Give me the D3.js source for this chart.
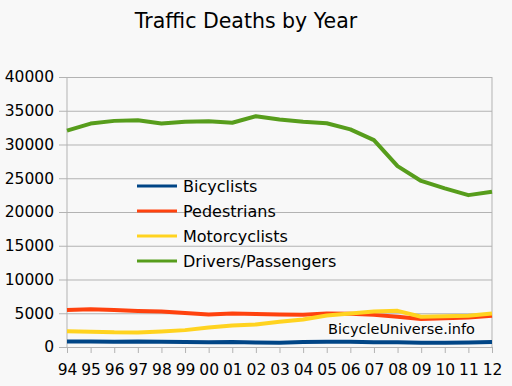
<!DOCTYPE html>
<html>
<head>
<meta charset="utf-8">
<script src="https://cdn.jsdelivr.net/npm/d3@7"></script>
<style>
  html, body { margin: 0; padding: 0; background: #f8f8f8; }
  text { font-family: "DejaVu Sans", sans-serif; fill: #000; }
</style>
</head>
<body>
<div id="chart"></div>
<script>
// Chart data
const years = ["94","95","96","97","98","99","00","01","02","03","04","05","06","07","08","09","10","11","12"];
const bicyclists  = [800, 830, 765, 810, 760, 750, 690, 730, 665, 630, 725, 785, 770, 700, 715, 630, 620, 680, 725];
const pedestrians = [5480, 5600, 5470, 5330, 5260, 5050, 4820, 4960, 4900, 4820, 4760, 4960, 4940, 4760, 4480, 4150, 4260, 4380, 4620];
const motorcyclists = [2350, 2260, 2170, 2160, 2300, 2500, 2900, 3200, 3330, 3730, 4080, 4680, 4950, 5250, 5360, 4480, 4560, 4640, 4980];
const drivers = [32050, 33100, 33500, 33600, 33100, 33380, 33430, 33230, 34200, 33700, 33380, 33140, 32240, 30650, 26800, 24600, 23500, 22500, 23000];
const yTicks = [0, 5000, 10000, 15000, 20000, 25000, 30000, 35000, 40000];

const seriesNames = ["Bicyclists", "Pedestrians", "Motorcyclists", "Drivers/Passengers"];
const seriesValues = [bicyclists, pedestrians, motorcyclists, drivers];
const seriesColors = ["#004586", "#ff420e", "#ffd320", "#579d1c"];

const width = 512, height = 386;
const svg = d3.select("#chart").append("svg")
    .attr("width", width)
    .attr("height", height);

svg.append("rect").attr("width", width).attr("height", height).attr("fill", "#f8f8f8");

const x = d3.scalePoint().domain(years).range([67, 492]);
const y = d3.scaleLinear().domain([0, 40000]).range([347, 77]);

// Gridlines + left ticks
const yAxis = svg.append("g")
    .attr("transform", "translate(67,0)")
    .call(d3.axisLeft(y).tickValues(yTicks).tickSize(-425).tickPadding(13).tickFormat(d3.format("d")));
yAxis.select(".domain").remove();
yAxis.selectAll(".tick line").attr("stroke", "#b3b3b3").attr("x1", -8);
yAxis.selectAll(".tick text")
    .attr("font-size", "15.5px")
    .attr("font-family", "DejaVu Sans, sans-serif")
    .attr("fill", "#000");

// Axis frame lines
svg.append("line").attr("x1", 67).attr("x2", 67).attr("y1", 77).attr("y2", 347).attr("stroke", "#b3b3b3");
svg.append("line").attr("x1", 492).attr("x2", 492).attr("y1", 77).attr("y2", 347).attr("stroke", "#b3b3b3");

const xAxis = svg.append("g")
    .attr("transform", "translate(0,347)")
    .call(d3.axisBottom(x).tickSize(6).tickPadding(11));
xAxis.select(".domain").attr("stroke", "#b3b3b3");
xAxis.selectAll(".tick line").attr("stroke", "#b3b3b3");
xAxis.selectAll(".tick text")
    .attr("font-size", "15.5px")
    .attr("font-family", "DejaVu Sans, sans-serif")
    .attr("fill", "#000");

// Series lines
const line = d3.line()
    .x((d, i) => x(years[i]))
    .y(d => y(d));

seriesValues.forEach((vals, i) => {
    svg.append("path")
        .datum(vals)
        .attr("fill", "none")
        .attr("stroke", seriesColors[i])
        .attr("stroke-width", 4)
        .attr("stroke-linejoin", "round")
        .attr("d", line);
});

// Legend
const legend = svg.append("g").attr("transform", "translate(137,186)");
seriesNames.forEach((name, i) => {
    const row = legend.append("g").attr("transform", `translate(0,${i * 25})`);
    row.append("line")
        .attr("x1", 0).attr("x2", 40)
        .attr("stroke", seriesColors[i])
        .attr("stroke-width", 3);
    row.append("text")
        .attr("x", 46)
        .attr("y", 6)
        .attr("font-size", "16px")
        .text(name);
});

// Title
svg.append("text")
    .attr("x", 246)
    .attr("y", 28)
    .attr("text-anchor", "middle")
    .attr("font-size", "20.5px")
    .text("Traffic Deaths by Year");

// Watermark
svg.append("text")
    .attr("x", 475)
    .attr("y", 334)
    .attr("text-anchor", "end")
    .attr("font-size", "14.5px")
    .text("BicycleUniverse.info");
</script>
</body>
</html>
